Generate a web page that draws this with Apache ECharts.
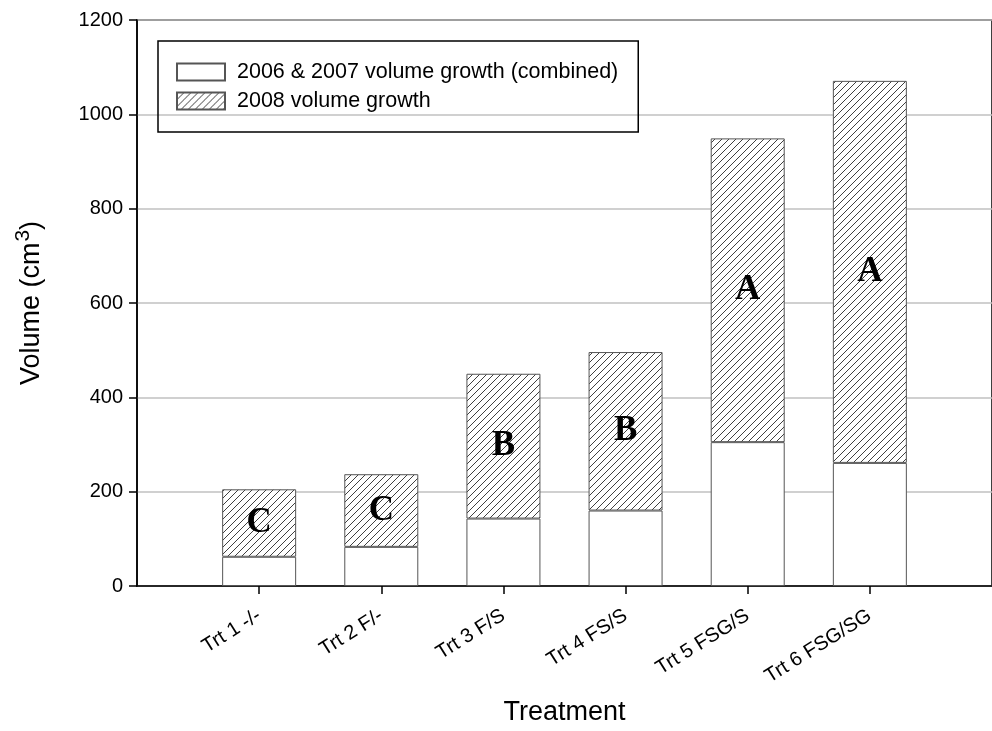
<!DOCTYPE html>
<html>
<head>
<meta charset="utf-8">
<script src="https://cdn.jsdelivr.net/npm/echarts@6/dist/echarts.min.js"></script>
<style>
  html, body { margin: 0; padding: 0; background: #fff; }
  #chart { width: 992px; height: 731px; }
</style>
</head>
<body>
<div id="chart"></div>
<script>
// Treatments along the x axis
const treatments = ['Trt 1 -/-', 'Trt 2 F/-', 'Trt 3 F/S', 'Trt 4 FS/S', 'Trt 5 FSG/S', 'Trt 6 FSG/SG'];
// Volume growth (cm3)
const growth0607 = [62, 83, 143, 160, 305, 261];
const growth2008 = [143, 154, 307, 336, 644, 810];
// Significance groups written on the 2008 segment
const groupLetters = ['C', 'C', 'B', 'B', 'A', 'A'];

// The axis runs one empty slot past each end, so the bars sit at slots 1..6
const xSlots = ['', ...treatments, ''];
const pad = arr => [null, ...arr, null];
const isTreatment = i => i >= 1 && i <= treatments.length;

// Diagonal hatch tile used as a repeating fill
function makeHatch() {
  const s = 7;
  const c = document.createElement('canvas');
  c.width = s; c.height = s;
  const g = c.getContext('2d');
  g.fillStyle = '#ffffff';
  g.fillRect(0, 0, s, s);
  g.strokeStyle = '#2a2a2a';
  g.lineWidth = 0.9;
  g.beginPath();
  g.moveTo(0, s); g.lineTo(s, 0);
  g.moveTo(-s / 2, s / 2); g.lineTo(s / 2, -s / 2);
  g.moveTo(s / 2, s * 1.5); g.lineTo(s * 1.5, s / 2);
  g.stroke();
  return c;
}
const hatch = { image: makeHatch(), repeat: 'repeat' };

const chart = echarts.init(document.getElementById('chart'), null, { renderer: 'canvas' });
const font = 'Liberation Sans, Arial, sans-serif';

chart.setOption({
  animation: false,
  backgroundColor: '#ffffff',
  grid: {
    left: 137, top: 20, width: 865, height: 576,
    show: true, borderColor: '#000', borderWidth: 1.5, backgroundColor: 'transparent'
  },
  legend: {
    orient: 'vertical',
    left: 158, top: 41,
    padding: [20, 20, 20, 18],
    icon: 'rect',
    itemWidth: 48, itemHeight: 17, itemGap: 7,
    borderColor: '#000', borderWidth: 1.5,
    textStyle: { fontFamily: font, fontSize: 21.5, color: '#000', padding: [0, 0, 0, 7] },
    data: ['2006 & 2007 volume growth (combined)', '2008 volume growth']
  },
  xAxis: {
    type: 'category', data: xSlots, boundaryGap: false,
    splitLine: { show: false },
    axisLine: { show: true, onZero: false, lineStyle: { color: '#000', width: 1.5 } },
    axisTick: { show: true, length: 8, interval: i => isTreatment(i), lineStyle: { color: '#000', width: 1.5 } },
    axisLabel: {
      interval: i => isTreatment(i),
      rotate: 32, margin: 28,
      fontFamily: font, fontSize: 20, color: '#000'
    },
    name: 'Treatment', nameLocation: 'middle', nameGap: 113,
    nameTextStyle: { fontFamily: font, fontSize: 27, color: '#000' }
  },
  yAxis: {
    type: 'value', min: 0, max: 1200, interval: 200,
    axisLine: { show: true, lineStyle: { color: '#000', width: 1.5 } },
    axisTick: { show: true, length: 8, lineStyle: { color: '#000', width: 1.5 } },
    axisLabel: { margin: 14, fontFamily: font, fontSize: 20, color: '#000', formatter: v => String(v) },
    splitLine: { show: true, lineStyle: { color: '#c0c0c0', width: 1.5 } },
    name: 'Volume (cm{sup|3})', nameLocation: 'middle', nameGap: 86,
    nameTextStyle: {
      fontFamily: font, fontSize: 27, color: '#000',
      rich: { sup: { fontFamily: font, fontSize: 21, color: '#000', padding: [0, 0, 17, 1] } }
    }
  },
  series: [
    {
      name: '2006 & 2007 volume growth (combined)',
      type: 'bar', stack: 'vol', barWidth: 74,
      itemStyle: { color: '#ffffff', borderColor: '#555', borderWidth: 1 },
      data: pad(growth0607)
    },
    {
      name: '2008 volume growth',
      type: 'bar', stack: 'vol', barWidth: 74,
      itemStyle: { color: hatch, borderColor: '#555', borderWidth: 1 },
      label: {
        show: true, position: 'inside',
        fontFamily: 'Liberation Serif, Times New Roman, serif', fontWeight: 'bold', fontSize: 35, color: '#000',
        formatter: p => groupLetters[p.dataIndex - 1] || ''
      },
      data: pad(growth2008)
    }
  ]
});
</script>
</body>
</html>
